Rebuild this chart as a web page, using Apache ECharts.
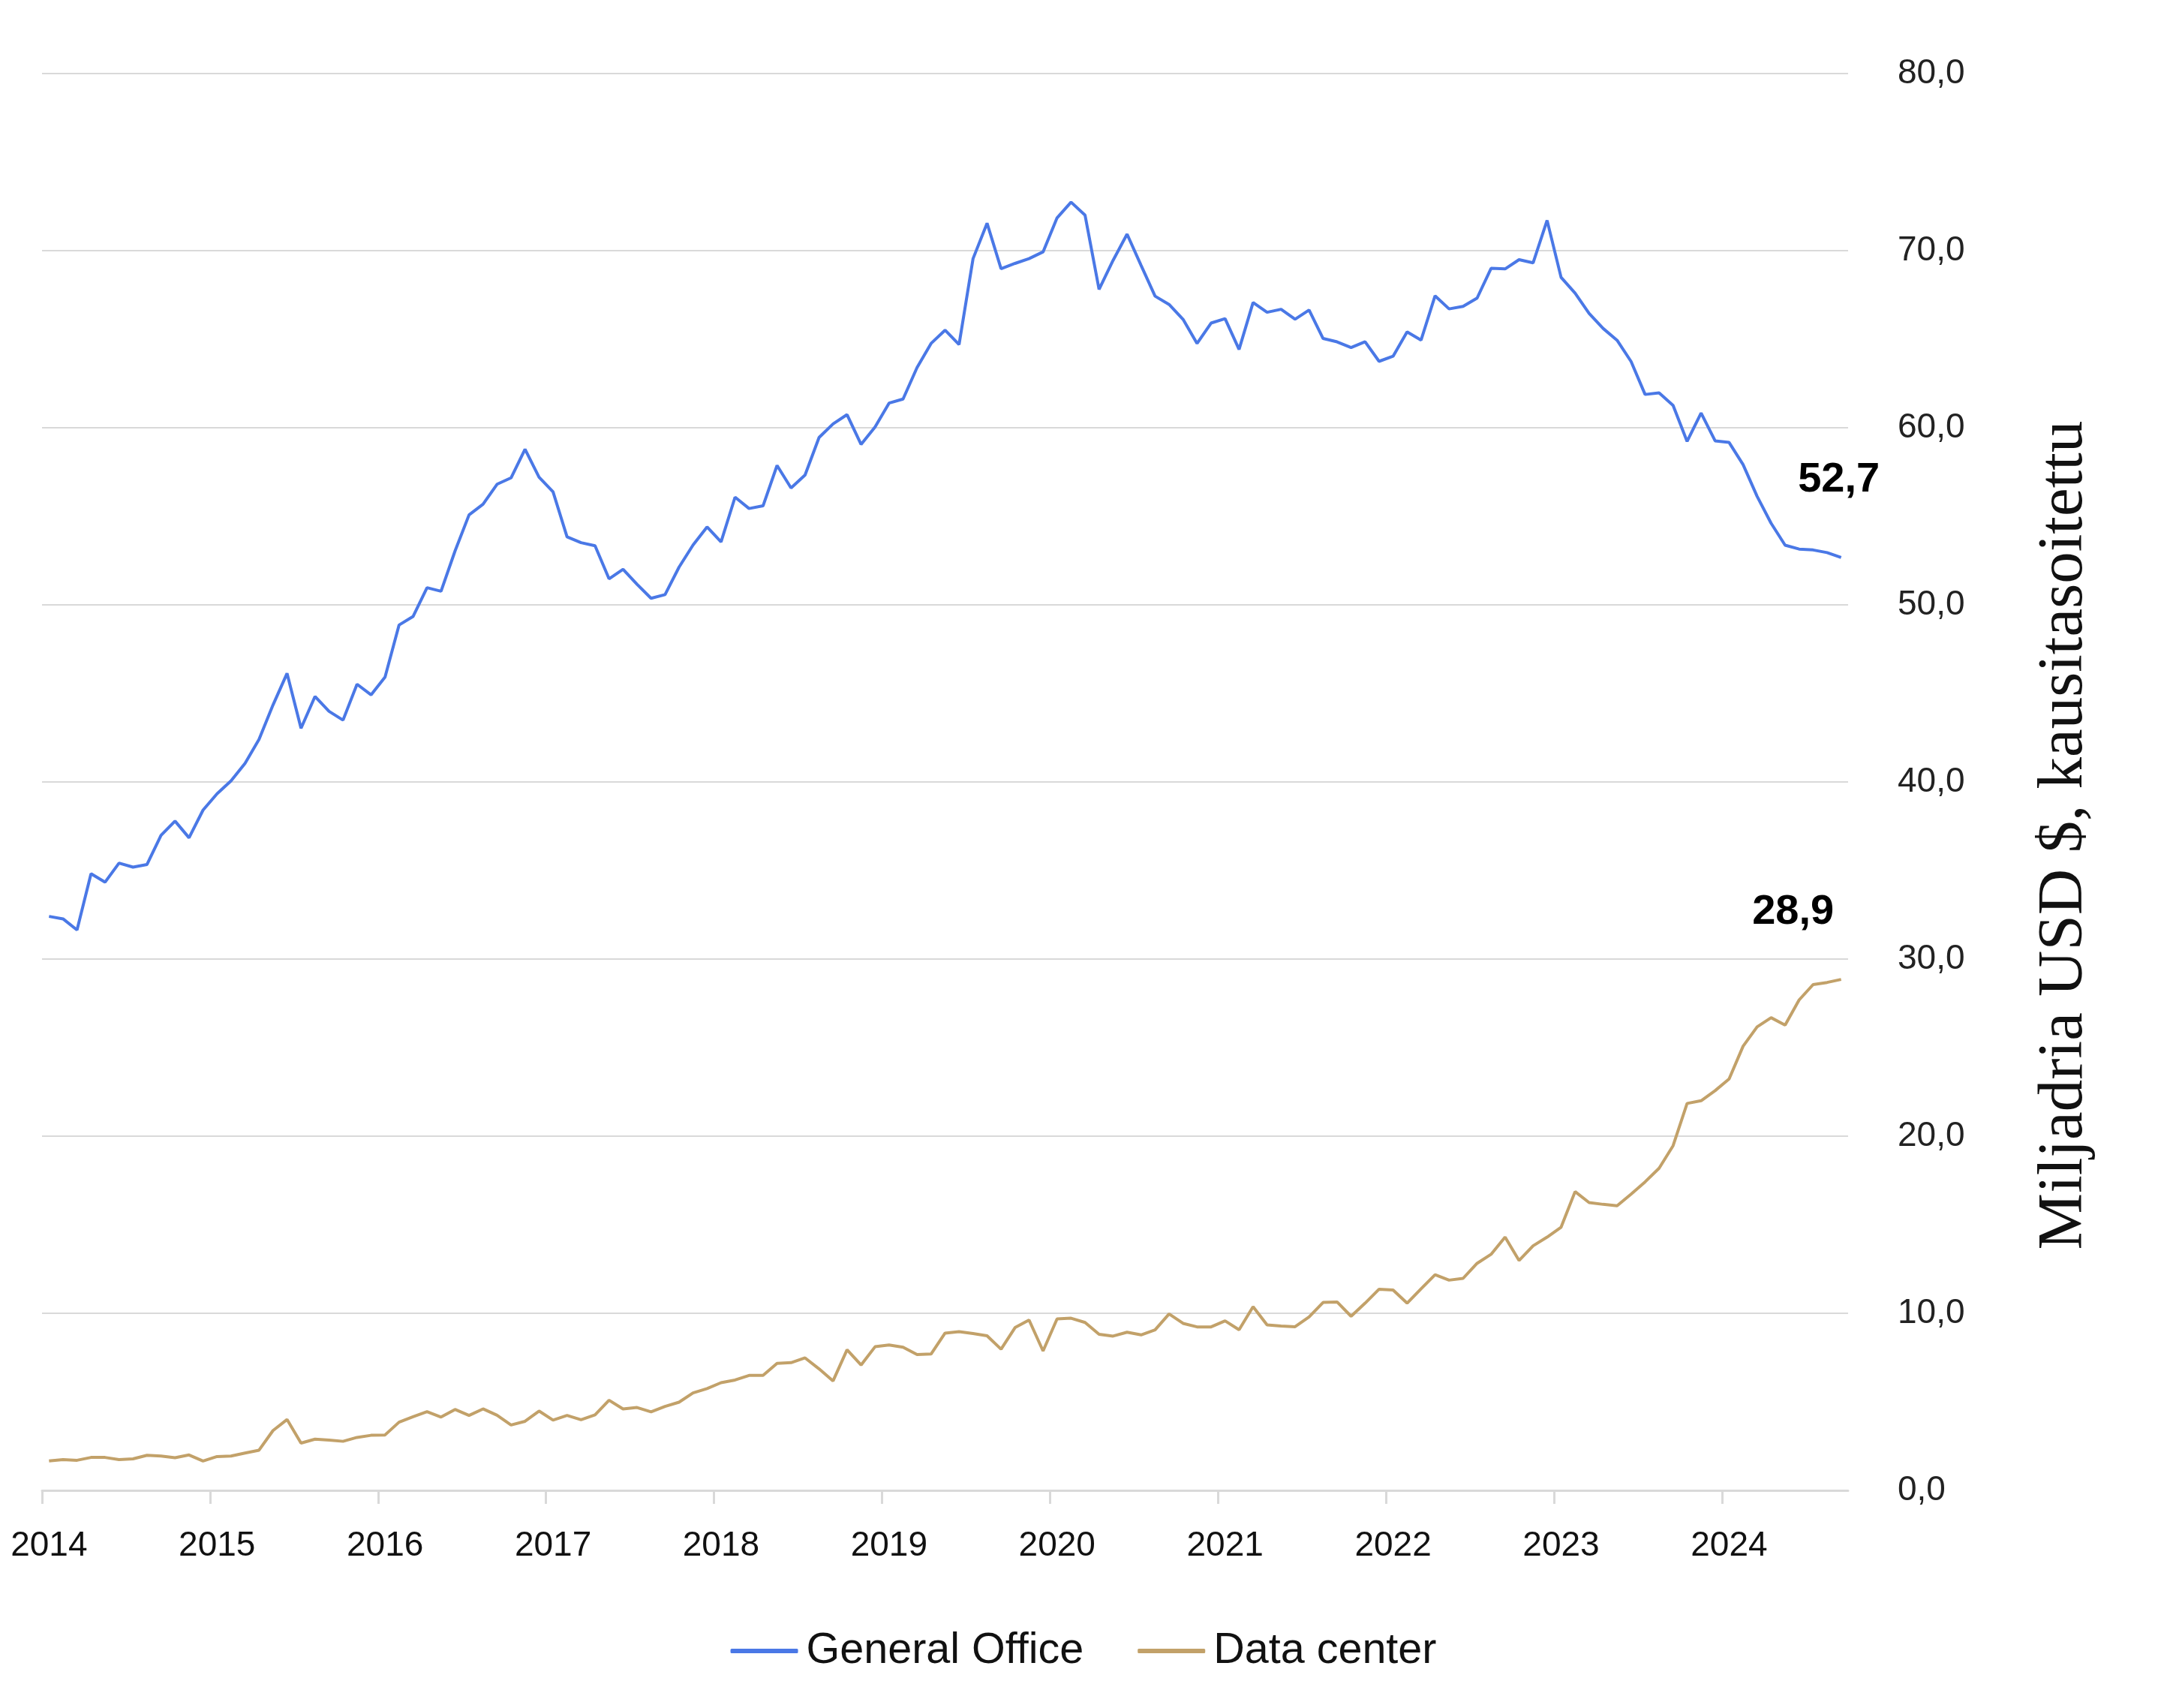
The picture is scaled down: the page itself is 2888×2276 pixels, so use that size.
<!DOCTYPE html>
<html><head><meta charset="utf-8">
<script src="https://cdn.jsdelivr.net/npm/echarts@6/dist/echarts.min.js"></script>
<style>html,body{margin:0;padding:0;background:#fff}#c{width:2888px;height:2276px}</style>
</head><body><div id="c"></div>
<script>
const years = ['2014','2015','2016','2017','2018','2019','2020','2021','2022','2023','2024'];
const monthNames = ['01','02','03','04','05','06','07','08','09','10','11','12'];
const monthsInLastYear = 9;
const seriesNames = ['General Office', 'Data center'];
const endLabels = ['52,7', '28,9'];
const yAxisTitle = 'Miljadria USD $, kausitasoitettu';

const generalOffice = [
32.41,32.27,31.64,34.82,34.34,35.42,35.19,35.34,36.99,37.79,36.85,38.41,
39.33,40.06,41.05,42.40,44.35,46.13,43.03,44.83,43.99,43.49,45.52,44.92,
45.92,48.86,49.34,50.97,50.77,53.04,55.08,55.68,56.81,57.17,58.79,57.21,
56.38,53.84,53.51,53.34,51.47,52.01,51.16,50.37,50.58,52.13,53.38,54.40,
53.55,56.08,55.44,55.59,57.87,56.60,57.33,59.45,60.22,60.74,59.06,60.04,
61.39,61.62,63.40,64.76,65.51,64.70,69.55,71.55,68.98,69.28,69.55,69.93,
71.85,72.74,72.00,67.81,69.45,70.93,69.17,67.43,66.96,66.12,64.76,65.91,
66.16,64.42,67.07,66.52,66.69,66.13,66.65,65.04,64.85,64.53,64.86,63.75,
64.04,65.41,64.95,67.45,66.71,66.85,67.32,69.00,68.97,69.49,69.31,71.71,
68.49,67.60,66.46,65.61,64.94,63.74,61.88,61.97,61.26,59.23,60.83,59.26,
59.17,57.92,56.13,54.61,53.37,53.15,53.10,52.95,52.67
];
const dataCenter = [
1.66,1.74,1.70,1.86,1.86,1.74,1.78,1.98,1.94,1.84,2.00,1.66,
1.91,1.94,2.11,2.27,3.38,4.00,2.67,2.89,2.84,2.77,2.99,3.11,
3.13,3.85,4.16,4.44,4.14,4.57,4.23,4.60,4.24,3.69,3.90,4.48,
3.97,4.23,3.99,4.26,5.09,4.60,4.68,4.43,4.74,4.98,5.50,5.75,
6.08,6.23,6.49,6.49,7.17,7.21,7.48,6.86,6.18,7.94,7.08,8.11,
8.21,8.08,7.67,7.70,8.88,8.96,8.86,8.73,7.97,9.19,9.62,7.87,
9.68,9.72,9.48,8.81,8.71,8.93,8.78,9.06,9.96,9.43,9.23,9.23,
9.57,9.07,10.37,9.34,9.28,9.24,9.79,10.61,10.64,9.83,10.57,11.36,
11.31,10.57,11.38,12.18,11.87,11.97,12.82,13.33,14.30,12.98,13.81,14.30,
14.86,16.87,16.25,16.15,16.07,16.73,17.42,18.19,19.46,21.85,22.00,22.57,
23.23,25.08,26.17,26.69,26.27,27.69,28.56,28.68,28.85
];

const categories = [];
years.forEach((y, yi) => {
  const n = yi === years.length - 1 ? monthsInLastYear : 12;
  for (let m = 0; m < n; m++) categories.push(y + '-' + monthNames[m]);
});
// month boundaries (start of each month plus the end of the last one), used only for year ticks
const boundaries = categories.concat(['end']);

const FONT = '"Liberation Sans", Arial, sans-serif';
const BLUE = '#4a78e6';
const GOLD = '#c2a169';
const GRID = '#d9d9d9';

const chart = echarts.init(document.getElementById('c'), null, {renderer: 'canvas'});
chart.setOption({
  animation: false,
  backgroundColor: '#ffffff',
  grid: {left: 56, right: 425, top: 98, bottom: 290, containLabel: false},
  legend: {
    data: seriesNames,
    left: 'center', top: 2166,
    icon: 'roundRect', itemWidth: 90, itemHeight: 6, itemGap: 72,
    textStyle: {fontFamily: FONT, fontSize: 57.5, color: '#111', padding: [0, 0, 0, 6]}
  },
  xAxis: [{
    type: 'category', data: categories, boundaryGap: true, position: 'bottom',
    axisLine: {show: true, lineStyle: {color: GRID, width: 3}},
    axisTick: {show: false},
    axisLabel: {
      interval: (i) => i % 12 === 0,
      formatter: (v) => v.slice(0, 4),
      fontFamily: FONT, fontSize: 46, color: '#111', margin: 51
    },
    splitLine: {show: false}
  }, {
    type: 'category', data: boundaries, boundaryGap: false, position: 'bottom',
    axisLine: {show: false},
    axisTick: {show: true, length: 18, lineStyle: {color: GRID, width: 3},
      interval: (i) => i % 12 === 0},
    axisLabel: {show: false},
    splitLine: {show: false}
  }],
  yAxis: {
    type: 'value', position: 'right', min: 0, max: 80, interval: 10,
    axisLine: {show: false}, axisTick: {show: false},
    splitLine: {show: true, lineStyle: {color: GRID, width: 2}},
    axisLabel: {
      formatter: (v) => v.toFixed(1).replace('.', ','),
      fontFamily: FONT, fontSize: 46, color: '#222', margin: 66, align: 'left'
    }
  },
  graphic: [{
    type: 'text', x: 2752, y: 1113, rotation: Math.PI / 2,
    style: {text: yAxisTitle, font: '85px "Liberation Serif", "Times New Roman", serif',
      fill: '#111', align: 'center', verticalAlign: 'middle'}
  }],
  series: [
    {
      name: seriesNames[0], type: 'line', data: generalOffice, xAxisIndex: 0,
      showSymbol: false, symbol: 'none',
      lineStyle: {color: BLUE, width: 4}, itemStyle: {color: BLUE},
      endLabel: {show: true, formatter: () => endLabels[0], fontFamily: FONT,
        fontSize: 56, fontWeight: 'bold', color: '#000',
        align: 'center', verticalAlign: 'middle', distance: 0, offset: [-3, -103]}
    },
    {
      name: seriesNames[1], type: 'line', data: dataCenter, xAxisIndex: 0,
      showSymbol: false, symbol: 'none',
      lineStyle: {color: GOLD, width: 4}, itemStyle: {color: GOLD},
      endLabel: {show: true, formatter: () => endLabels[1], fontFamily: FONT,
        fontSize: 56, fontWeight: 'bold', color: '#000',
        align: 'center', verticalAlign: 'middle', distance: 0, offset: [-64, -90]}
    }
  ]
});
</script></body></html>
